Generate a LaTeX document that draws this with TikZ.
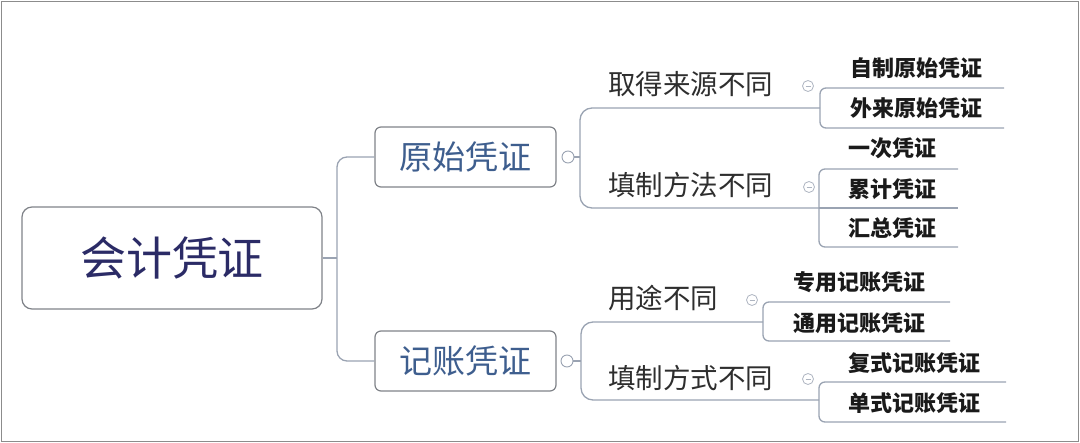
\documentclass[tikz,border=0pt]{standalone}
\usepackage{fontspec}
\setmainfont{Noto Sans CJK SC}
\definecolor{conncol}{HTML}{9AA3B2}
\definecolor{boxcol}{HTML}{7F8288}
\definecolor{rootcol}{HTML}{2B2B66}
\definecolor{lvlcol}{HTML}{3E5E8E}
\definecolor{subcol}{HTML}{2E2E2E}
\definecolor{leafcol}{HTML}{1A1A1A}
\definecolor{framecol}{HTML}{8C8C8C}
\tikzset{
  conn/.style={draw=conncol, line width=1.3pt},
  rootbox/.style={draw=boxcol, line width=1.2pt, rounded corners=10pt, minimum width=300pt, minimum height=102pt, inner sep=0pt, text=rootcol, font=\fontsize{46}{50}\selectfont},
  lvlbox/.style={draw=boxcol, line width=1.2pt, rounded corners=6pt, minimum width=181pt, minimum height=60pt, inner sep=0pt, text=lvlcol, font=\fontsize{33}{36}\selectfont},
  sublabel/.style={anchor=west, inner sep=0pt, text=subcol, font=\fontsize{27.5}{30}\selectfont},
  leaflabel/.style={anchor=west, inner sep=0pt, text=leafcol, font=\bfseries\fontsize{22}{24}\selectfont},
  knob/.style={circle, draw=conncol, line width=0.9pt, fill=white, minimum size=12pt, inner sep=0pt},
  smallknob/.style={circle, draw=conncol!80, line width=0.8pt, fill=white, minimum size=11pt, inner sep=0pt,
    path picture={\draw[conncol!80, line width=0.6pt] ([xshift=-2.5pt]path picture bounding box.center) -- ([xshift=2.5pt]path picture bounding box.center);}},
}
\begin{document}
\begin{tikzpicture}[x=1pt,y=-1pt]
\useasboundingbox (0,0) rectangle (1080,443);
\draw[framecol, line width=1.5pt] (1.5,1.5) rectangle (1078.5,441.5);

% root and level 1
\node[rootbox] (root) at (172,258) {会计凭证};
\node[lvlbox] (b1) at (465.5,157) {原始凭证};
\node[lvlbox] (b2) at (465.5,361) {记账凭证};
\coordinate (j0) at (337,258);
\draw[conn] (root.east) -- (j0);
\draw[conn, rounded corners=10pt] (b1.west) -| (j0) |- (b2.west);

% knobs on level-1 boxes
\node[knob] (k1) at (568,157) {};
\node[knob] (k2) at (567,361) {};

% sub labels
\node[sublabel] (s1) at (608,84) {取得来源不同};
\node[sublabel] (s2) at (608,185) {填制方法不同};
\node[sublabel] (s3) at (608,298) {用途不同};
\node[sublabel] (s4) at (608,378) {填制方式不同};

% bracket from b1
\coordinate (v1) at (580,157);
\coordinate (u1) at (820,108);
\coordinate (u2) at (819,208);
\draw[conn] (k1.east) -- (v1);
\draw[conn, rounded corners=12pt] (u1) -| (v1) |- (u2);

% bracket from b2
\coordinate (v2) at (581,361);
\coordinate (u3) at (763,322);
\coordinate (u4) at (819,400);
\draw[conn] (k2.east) -- (v2);
\draw[conn, rounded corners=12pt] (u3) -| (v2) |- (u4);

% leaves of s1
\node[smallknob] (k3) at (808,86) {};
\node[leaflabel] (l1) at (850,68) {自制原始凭证};
\node[leaflabel] (l2) at (850,108) {外来原始凭证};
\coordinate (e1) at (1004,88);
\coordinate (e2) at (1004,128);
\draw[conn, rounded corners=6pt] (e1) -| (u1) |- (e2);

% leaves of s2
\node[smallknob] (k4) at (809,187) {};
\node[leaflabel] (l3) at (848,148) {一次凭证};
\node[leaflabel] (l4) at (848,189) {累计凭证};
\node[leaflabel] (l5) at (848,228) {汇总凭证};
\coordinate (e3) at (958,169);
\coordinate (e4) at (958,208);
\coordinate (e5) at (958,247);
\draw[conn, rounded corners=6pt] (e3) -| (u2) |- (e5);
\draw[conn] (u2) -- (e4);

% leaves of s3
\node[smallknob] (k5) at (752,300) {};
\node[leaflabel] (l6) at (793,282) {专用记账凭证};
\node[leaflabel] (l7) at (793,323) {通用记账凭证};
\coordinate (e6) at (950,302);
\coordinate (e7) at (950,341);
\draw[conn, rounded corners=6pt] (e6) -| (u3) |- (e7);

% leaves of s4
\node[smallknob] (k6) at (808,379) {};
\node[leaflabel] (l8) at (848,363) {复式记账凭证};
\node[leaflabel] (l9) at (848,403) {单式记账凭证};
\coordinate (e8) at (1006,382);
\coordinate (e9) at (1006,422);
\draw[conn, rounded corners=6pt] (e8) -| (u4) |- (e9);
\end{tikzpicture}
\end{document}
